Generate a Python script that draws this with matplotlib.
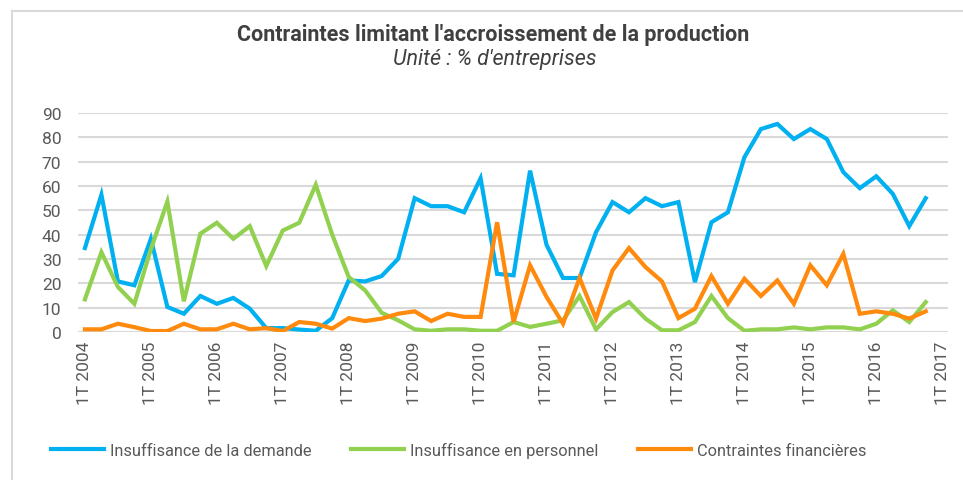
import matplotlib
matplotlib.use("Agg")
import matplotlib.pyplot as plt
from matplotlib.lines import Line2D

years = list(range(2004, 2017))
quarters = [f"{q}T {y}" for y in years for q in (1, 2, 3, 4)]
tick_labels = [f"1T {y}" for y in range(2004, 2018)]

demande = [34.5, 56.4, 20.8, 19.2, 38.3, 10.3, 7.5, 14.8, 11.6, 14.0, 9.6, 1.6, 1.6,
           1.0, 0.5, 5.7, 21.2, 20.8, 23.0, 30.1, 55.0, 51.7, 51.7, 49.2, 63.2, 23.9,
           23.3, 66.3, 35.8, 22.2, 22.2, 41.0, 53.4, 49.2, 55.0, 51.7, 53.4, 20.5,
           45.1, 49.2, 71.8, 83.4, 85.5, 79.3, 83.4, 79.3, 65.7, 59.1, 64.0, 56.8,
           43.5, 55.0]
personnel = [13.4, 32.8, 18.5, 11.6, 34.0, 53.6, 12.6, 40.4, 44.9, 38.3, 43.5, 27.1,
             41.7, 44.9, 60.5, 40.0, 22.6, 17.1, 7.9, 4.8, 1.1, 0.5, 1.1, 1.1, 0.5,
             0.5, 4.1, 2.1, 3.4, 4.8, 14.8, 1.1, 8.2, 12.3, 5.5, 0.7, 0.7, 4.1, 14.8,
             5.7, 0.5, 1.1, 1.1, 1.9, 1.1, 1.9, 1.9, 1.1, 3.4, 8.9, 4.1, 12.3]
financieres = [1.1, 1.1, 3.4, 2.0, 0.4, 0.4, 3.4, 1.1, 1.1, 3.4, 1.1, 1.6, 0.4, 4.1,
               3.4, 1.4, 5.7, 4.5, 5.5, 7.5, 8.5, 4.5, 7.5, 6.2, 6.2, 45.1, 4.1, 27.4,
               14.4, 3.4, 22.2, 5.5, 25.3, 34.5, 26.7, 20.8, 5.7, 9.6, 23.0, 11.6,
               21.9, 14.8, 21.2, 11.6, 27.4, 19.2, 32.1, 7.5, 8.5, 7.5, 5.5, 8.5]

series_names = ["Insuffisance de la demande", "Insuffisance en personnel",
                "Contraintes financières"]
colors = ["#00B0F0", "#92D050", "#FF8A0D"]

plt.rcParams['font.family'] = ['Roboto', 'DejaVu Sans']

fig = plt.figure(figsize=(9.63, 4.81), dpi=100)
ax = fig.add_axes([78/963, 1-333/481, (948-78)/963, (333-114)/481])

x = list(range(len(demande)))
for vals, c, n in zip([demande, personnel, financieres], colors, series_names):
    ax.plot(x, vals, color=c, lw=3.0, solid_joinstyle='miter', label=n, zorder=3)

ax.set_ylim(0, 90)
ax.set_xlim(-0.42, 52.35)
ax.set_yticks(range(0, 91, 10))
ax.set_xticks(range(0, 53, 4))
ax.set_xticklabels(tick_labels, rotation=90, fontsize=12.5, color="#595959")
ax.tick_params(axis='y', labelsize=12.5, labelcolor="#595959", length=0, pad=12)
ax.tick_params(axis='x', length=0, pad=6)
ax.grid(axis='y', color="#D9D9D9", lw=1.5, zorder=0)
for s in ax.spines.values():
    s.set_visible(False)

fig.text(493/963, 1-35/481, "Contraintes limitant l'accroissement de la production",
         ha='center', va='center', fontsize=15.5, fontweight='bold', color="#404040")
fig.text(495/963, 1-60/481, "Unité : % d'entreprises", ha='center', va='center',
         fontsize=15.5, style='italic', color="#404040")

handles = [Line2D([0], [0], color=c, lw=3) for c in colors]
fig.legend(handles, series_names, loc='center', bbox_to_anchor=(459/963, 1-451/481),
           ncol=3, frameon=False, fontsize=11.8, handlelength=3.2, columnspacing=2.4,
           labelcolor="#595959", handletextpad=0.4)

# chart border (left and top)
fig.add_artist(Line2D([12/963, 12/963], [0, 1-12/481], color="#D9D9D9", lw=1.5,
                      transform=fig.transFigure))
fig.add_artist(Line2D([12/963, 1], [1-12/481, 1-12/481], color="#D9D9D9", lw=1.5,
                      transform=fig.transFigure))

fig.savefig("out.png", dpi=100)
